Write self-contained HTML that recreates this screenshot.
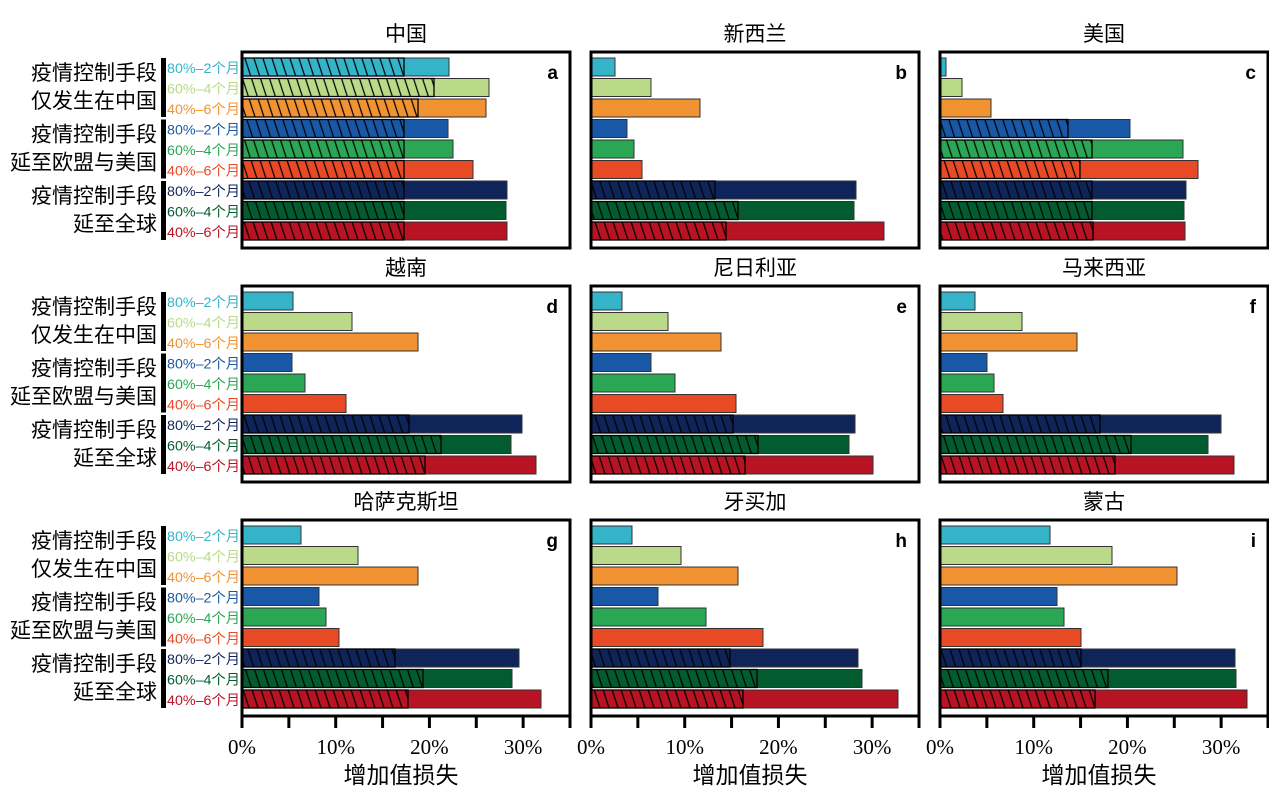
<!DOCTYPE html>
<html><head><meta charset="utf-8"><style>
html,body{margin:0;padding:0;background:#fff;}
svg{display:block;}
</style></head><body>
<svg id="s" xmlns="http://www.w3.org/2000/svg" width="1269" height="807" viewBox="0 0 1269 807">
<defs>
<pattern id="h" patternUnits="userSpaceOnUse" width="9" height="18" patternTransform="skewX(18)">
<line x1="1" y1="-2" x2="1" y2="20" stroke="#000" stroke-width="1.3"/>
</pattern>
</defs>
</svg>
<script>
const S=document.getElementById('s');const NS='http://www.w3.org/2000/svg';
function el(t,a,txt){const e=document.createElementNS(NS,t);for(const k in a)e.setAttribute(k,a[k]);if(txt!==undefined)e.textContent=txt;S.appendChild(e);return e;}
const colors=['#35b3c9','#bada8a','#f19332','#1958a6','#2aa655','#e84a25','#0f2559','#035c2f','#b71322'];
const lefts=[242,591,940],tops=[52,286,520],W=328,H=196;
const titles=['中国','新西兰','美国','越南','尼日利亚','马来西亚','哈萨克斯坦','牙买加','蒙古'];
const letters='abcdefghi';
const data=[
[[449,404],[489,434],[486,418],[448,404],[453,404],[473,404],[507,404],[506,404],[507,404]],
[[615],[651],[700],[627],[634],[642],[856,715],[854,738],[884,726]],
[[946],[962],[991],[1130,1068],[1183,1092],[1198,1080],[1186,1092],[1184,1092],[1185,1093]],
[[293],[352],[418],[292],[305],[346],[522,409],[511,441],[536,425]],
[[622],[668],[721],[651],[675],[736],[855,733],[849,758],[873,745]],
[[975],[1022],[1077],[987],[994],[1003],[1221,1100],[1208,1131],[1234,1115]],
[[301],[358],[418],[319],[326],[339],[519,395],[512,423],[541,408]],
[[632],[681],[738],[658],[706],[763],[858,730],[862,757],[898,743]],
[[1050],[1112],[1177],[1057],[1064],[1081],[1235,1081],[1236,1108],[1247,1095]]];
const sub=['80%–2个月','60%–4个月','40%–6个月'];
const grp=[['疫情控制手段','仅发生在中国'],['疫情控制手段','延至欧盟与美国'],['疫情控制手段','延至全球']];
const CJK='"Liberation Sans","Noto Sans CJK SC",sans-serif';
for(let p=0;p<9;p++){
 const r=Math.floor(p/3),c=p%3,L=lefts[c],T=tops[r];
 el('text',{x:L+W/2,y:T-11,'text-anchor':'middle','font-size':21,'font-family':CJK},titles[p]);
 data[p].forEach((d,i)=>{
  const y=T+6+i*20.5;
  el('rect',{x:L,y:y,width:d[0]-L,height:18,fill:colors[i],stroke:'#333','stroke-width':1});
  if(d[1]){
   el('rect',{x:L,y:y,width:d[1]-L,height:18,fill:'url(#h)',stroke:'#000','stroke-width':1.3});
  }
 });
 el('rect',{x:L,y:T,width:W,height:H,fill:'none',stroke:'#000','stroke-width':3});
 el('text',{x:L+W-12,y:T+27,'text-anchor':'end','font-size':19,'font-weight':'bold','font-family':'"Liberation Sans",sans-serif'},letters[p]);
 if(c===0){
  for(let g=0;g<3;g++){
   const y0=T+6+g*3*20.5;
   el('rect',{x:161,y:y0,width:5,height:59,fill:'#000'});
   el('text',{x:157,y:y0+22,'text-anchor':'end','font-size':21,'font-family':CJK},grp[g][0]);
   el('text',{x:157,y:y0+50,'text-anchor':'end','font-size':21,'font-family':CJK},grp[g][1]);
   for(let k=0;k<3;k++){
    el('text',{x:240,y:y0+k*20.5+15,'text-anchor':'end','font-size':14,fill:colors[g*3+k],'font-family':CJK,'textLength':73,'lengthAdjust':'spacingAndGlyphs'},sub[k]);
   }
  }
 }
 if(r===2){
  const B=T+H;
  for(let t=0;t<=7;t++){
   const x=L+t*W/7;
   el('line',{x1:x,y1:B,x2:x,y2:B+12,stroke:'#000','stroke-width':3});
  }
  ['0%','10%','20%','30%'].forEach((s,t)=>{
   el('text',{x:L+t*2*W/7,y:B+38,'text-anchor':'middle','font-size':21,'font-family':'"Liberation Serif",serif'},s);
  });
  el('text',{x:L+W/2-5,y:B+67,'text-anchor':'middle','font-size':23,'font-family':CJK},'增加值损失');
 }
}
</script>
</body></html>
